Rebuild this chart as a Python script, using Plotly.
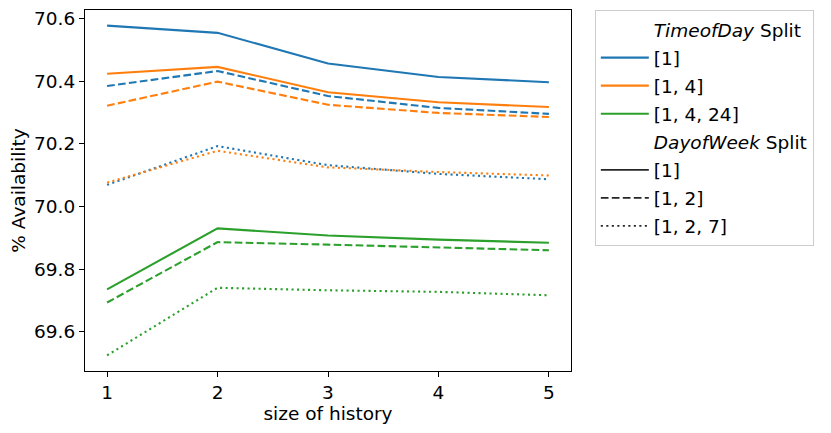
import plotly.graph_objects as go

history = [1, 2, 3, 4, 5]

# TimeofDay split [1]
tod1_dow1 = [70.578, 70.555, 70.457, 70.414, 70.397]
tod1_dow12 = [70.385, 70.433, 70.353, 70.315, 70.296]
tod1_dow127 = [70.069, 70.193, 70.132, 70.104, 70.087]
# TimeofDay split [1, 4]
tod14_dow1 = [70.424, 70.446, 70.365, 70.333, 70.318]
tod14_dow12 = [70.322, 70.399, 70.325, 70.299, 70.286]
tod14_dow127 = [70.076, 70.178, 70.125, 70.110, 70.099]
# TimeofDay split [1, 4, 24]
tod1424_dow1 = [69.735, 69.930, 69.907, 69.894, 69.884]
tod1424_dow12 = [69.693, 69.886, 69.878, 69.869, 69.860]
tod1424_dow127 = [69.524, 69.740, 69.732, 69.727, 69.716]

tod_labels = ["[1]", "[1, 4]", "[1, 4, 24]"]
dow_labels = ["[1]", "[1, 2]", "[1, 2, 7]"]
colors = ["#1f77b4", "#ff7f0e", "#2ca02c"]
dashes = ["solid", "7.7px,3.3px", "2.1px,3.4px"]

series = [
    [tod1_dow1, tod1_dow12, tod1_dow127],
    [tod14_dow1, tod14_dow12, tod14_dow127],
    [tod1424_dow1, tod1424_dow12, tod1424_dow127],
]

fig = go.Figure()
for ci, group in enumerate(series):
    for di, vals in enumerate(group):
        fig.add_trace(go.Scatter(
            x=history, y=vals, mode="lines",
            line=dict(color=colors[ci], width=2.1, dash=dashes[di]),
            showlegend=False, hoverinfo="skip"))

# legend proxies (each in its own group so the gap between entries can be set)
entries = [("<i>TimeofDay</i> Split", "rgba(0,0,0,0)", 0, "solid")]
entries += [(lab, colors[ci], 2.1, "solid") for ci, lab in enumerate(tod_labels)]
entries += [("<i>DayofWeek</i> Split", "rgba(0,0,0,0)", 0, "solid")]
entries += [(lab, "#262626", 1.8, dashes[di]) for di, lab in enumerate(dow_labels)]
for k, (name, col, w, dsh) in enumerate(entries):
    fig.add_trace(go.Scatter(x=[None], y=[None], mode="lines",
                             line=dict(color=col, width=w, dash=dsh),
                             name=name, legendgroup=f"g{k}"))

axis_common = dict(
    showline=True, linecolor="black", linewidth=1.2, mirror=True,
    ticks="outside", ticklen=5, tickwidth=1.2, tickcolor="black",
    showgrid=False, zeroline=False, automargin=False,
    tickfont=dict(size=18.5, color="black"),
)

# page body has an 8px margin: shrink the figure accordingly
fig.update_layout(
    width=823, height=425,
    margin=dict(l=77, r=260, t=2, b=62),
    paper_bgcolor="white", plot_bgcolor="white",
    font=dict(family="DejaVu Sans", size=18.5, color="black"),
    xaxis=dict(range=[0.8, 5.2], tickvals=history, ticktext=[str(h) for h in history],
               title=dict(text="size of history", font=dict(size=18.5), standoff=0),
               **axis_common),
    yaxis=dict(range=[69.474, 70.628], tickvals=[69.6, 69.8, 70.0, 70.2, 70.4, 70.6],
               ticktext=["69.6", "69.8", "70.0", "70.2", "70.4", "70.6"],
               title=dict(text="% Availability", font=dict(size=18.5), standoff=8),
               **axis_common),
    legend=dict(x=1.049, y=1.0, xanchor="left", yanchor="top",
                bordercolor="#cccccc", borderwidth=1, bgcolor="white",
                itemwidth=48, tracegroupgap=1,
                font=dict(size=18.5, color="black")),
)

fig.write_html("out.html")
